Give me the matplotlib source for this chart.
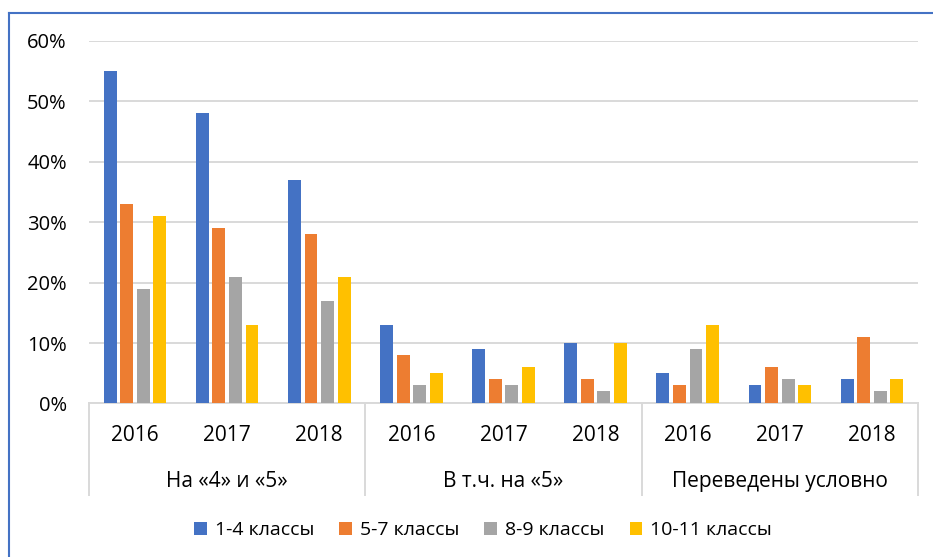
import matplotlib.pyplot as plt
from matplotlib.lines import Line2D
from matplotlib.ticker import PercentFormatter

plt.rcParams['font.family'] = ['Open Sans', 'DejaVu Sans']

groups = ['На «4» и «5»', 'В т.ч. на «5»', 'Переведены условно']
years = ['2016', '2017', '2018']
series = ['1-4 классы', '5-7 классы', '8-9 классы', '10-11 классы']
colors = ['#4472C4', '#ED7D31', '#A5A5A5', '#FFC000']

# values in %, one list per series, 9 categories (3 groups x 3 years)
v_1_4 = [55, 48, 37, 13, 9, 10, 5, 3, 4]
v_5_7 = [33, 29, 28, 8, 4, 4, 3, 6, 11]
v_8_9 = [19, 21, 17, 3, 3, 2, 9, 4, 2]
v_10_11 = [31, 13, 21, 5, 6, 10, 13, 3, 4]
values = [v_1_4, v_5_7, v_8_9, v_10_11]

fig = plt.figure(figsize=(9.33, 5.57), dpi=100)
ax = fig.add_axes([0.0954, 0.2756, 0.8885, 0.6508])

n = len(groups) * len(years)
xs = list(range(n))
step = 0.18
width = 0.14
handles = []
for i, vals in enumerate(values):
    off = (i - 1.5) * step
    b = ax.bar([x + off for x in xs], [v / 100 for v in vals], width=width,
               color=colors[i], label=series[i], zorder=3)
    handles.append(b)

ax.set_xlim(-0.5, n - 0.5)
ax.set_ylim(0, 0.6)
ax.set_yticks([0, 0.1, 0.2, 0.3, 0.4, 0.5, 0.6])
ax.yaxis.set_major_formatter(PercentFormatter(1.0, decimals=0))
ax.tick_params(axis='y', length=0, pad=16, labelsize=14.5, labelcolor='#000000')
ax.set_xticks([])
ax.grid(axis='y', color='#D9D9D9', linewidth=1.4, zorder=0)
for s in ['top', 'right', 'left']:
    ax.spines[s].set_visible(False)
ax.spines['bottom'].set_color('#D9D9D9')
ax.spines['bottom'].set_linewidth(1.4)

# two-level category axis
tr = ax.get_xaxis_transform()
for k in range(n):
    ax.text(k, -0.087, years[k % 3], transform=tr, ha='center', va='center',
            fontsize=15, color='#000000')
for g in range(len(groups)):
    ax.text(g * 3 + 1, -0.215, groups[g], transform=tr, ha='center', va='center',
            fontsize=15, color='#000000')
for g in range(len(groups) + 1):
    ax.plot([g * 3 - 0.5, g * 3 - 0.5], [0, -0.252], transform=tr, color='#D9D9D9',
            linewidth=1.4, clip_on=False)

fig.legend(handles=handles, labels=series, loc='center', bbox_to_anchor=(483 / 933, 1 - 530 / 557),
           ncol=4, frameon=False, fontsize=14, handlelength=0.65, handleheight=0.65,
           handletextpad=0.4, columnspacing=1.3)

# blue frame of the chart area
fig.add_artist(Line2D([9 / 933, 9 / 933], [0, 1 - 13 / 557], color='#4472C4', linewidth=1.5))
fig.add_artist(Line2D([9 / 933, 1], [1 - 13 / 557, 1 - 13 / 557], color='#4472C4', linewidth=1.5))

fig.savefig('out.png')
